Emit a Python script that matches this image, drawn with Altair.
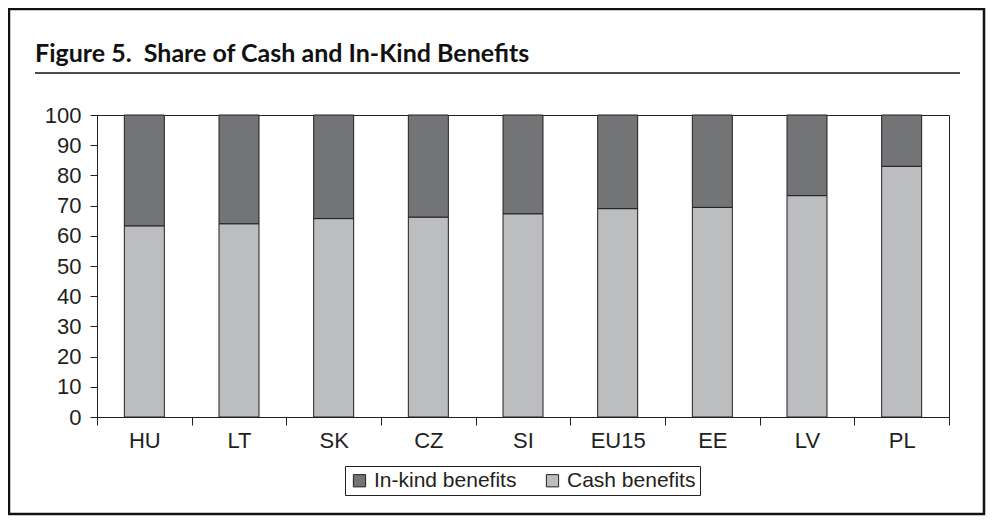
import altair as alt
import pandas as pd

countries = ["HU", "LT", "SK", "CZ", "SI", "EU15", "EE", "LV", "PL"]
cash = [63.3, 64.0, 65.7, 66.2, 67.3, 69.0, 69.4, 73.3, 83.0]
inkind = [36.7, 36.0, 34.3, 33.8, 32.7, 31.0, 30.6, 26.7, 17.0]
series_names = ["In-kind benefits", "Cash benefits"]
series_colors = ["#737476", "#bcbdbf"]
y_ticks = list(range(0, 101, 10))
TITLE = "Figure 5.\u00a0 Share of Cash and In-Kind Benefits"

rows = []
for c, cv, kv in zip(countries, cash, inkind):
    rows.append({"country": c, "series": "Cash benefits", "value": cv, "ord": 0})
    rows.append({"country": c, "series": "In-kind benefits", "value": kv, "ord": 1})
df = pd.DataFrame(rows)

INK = "#231f20"
FONT = "Liberation Sans"
W, H = 852, 302

bars = alt.Chart(df).mark_bar(width=40, stroke=INK, strokeWidth=1).encode(
    x=alt.X("country:N", sort=countries,
            scale=alt.Scale(paddingInner=0, paddingOuter=0),
            axis=alt.Axis(title=None, labelAngle=0, tickBand="extent", tickSize=8,
                          labelPadding=5, labelFontSize=22, labelFont=FONT,
                          labelColor=INK, domainColor=INK, tickColor=INK)),
    y=alt.Y("value:Q", stack="zero",
            scale=alt.Scale(domain=[0, 100], nice=False),
            axis=alt.Axis(title=None, values=y_ticks, grid=False, tickSize=7,
                          labelPadding=9, labelFontSize=22, labelFont=FONT,
                          labelColor=INK, domainColor=INK, tickColor=INK)),
    color=alt.Color("series:N",
                    scale=alt.Scale(domain=series_names, range=series_colors),
                    legend=alt.Legend(orient="none", legendX=248, legendY=351,
                                      direction="horizontal", title=None,
                                      strokeColor=INK, padding=4,
                                      symbolType="square", symbolSize=150,
                                      symbolStrokeColor=INK, symbolStrokeWidth=1,
                                      labelFontSize=21, labelFont=FONT,
                                      labelColor=INK, columnPadding=25,
                                      labelOffset=4)),
    order=alt.Order("ord:Q"),
)

one = pd.DataFrame({"k": [0]})

border = alt.Chart(one).mark_rect(fill=None, stroke="#111", strokeWidth=2.5, clip=False).encode(
    x=alt.value(-88), x2=alt.value(887), y=alt.value(-106), y2=alt.value(399)
)

underline = alt.Chart(one).mark_rule(stroke="#111", strokeWidth=1.5, clip=False).encode(
    x=alt.value(-62), x2=alt.value(863), y=alt.value(-42)
)

title = alt.Chart(one).mark_text(text=TITLE, font="Lato", fontWeight="bold", fontSize=25,
                                 align="left", baseline="alphabetic", color="#111",
                                 clip=False).encode(
    x=alt.value(-62), y=alt.value(-53)
)

chart = alt.layer(bars, border, underline, title).properties(
    width=W, height=H,
    padding={"left": 89, "top": 107, "right": 38, "bottom": 100},
    autosize=alt.AutoSizeParams(type="none"),
).configure_view(stroke=INK, strokeWidth=1)

chart.save("out.html", embed_options={"renderer": "svg", "actions": False})
